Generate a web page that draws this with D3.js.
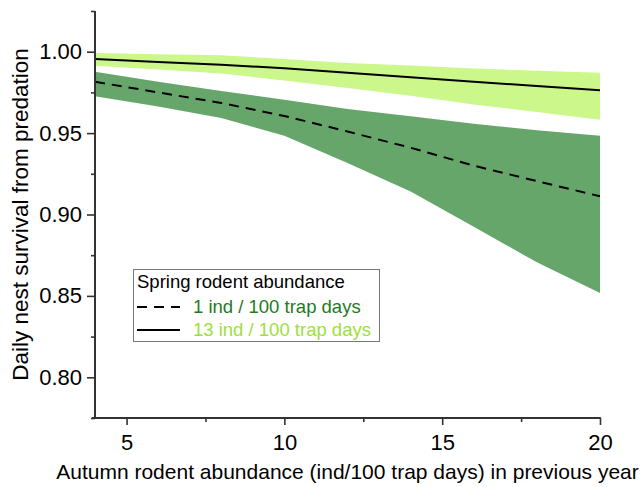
<!DOCTYPE html>
<html>
<head>
<meta charset="utf-8">
<script src="https://cdn.jsdelivr.net/npm/d3@7"></script>
<style>
  body { margin: 0; background: #fff; }
  svg { font-family: "Liberation Sans", Arial, sans-serif; }
  .axis path { display: none; }
  .axis line { stroke: #333; stroke-width: 1.6; }
  .axis text { fill: #000; font-size: 22px; }
</style>
</head>
<body>
<div id="chart"></div>
<script>
// autumn rodent abundance (x)
const autumn = [4, 6, 8, 10, 12, 14, 16, 18, 20];

// spring rodent abundance 1 ind / 100 trap days
const lowMean  = [0.9815, 0.9750, 0.9685, 0.9605, 0.9510, 0.9410, 0.9300, 0.9205, 0.9112];
const lowUpper = [0.9877, 0.9815, 0.9758, 0.9705, 0.9648, 0.9603, 0.9557, 0.9517, 0.9484];
const lowLower = [0.9726, 0.9664, 0.9593, 0.9484, 0.9316, 0.9142, 0.8925, 0.8706, 0.8518];

// spring rodent abundance 13 ind / 100 trap days
const highMean  = [0.9955, 0.9937, 0.9920, 0.9898, 0.9871, 0.9843, 0.9815, 0.9790, 0.9763];
const highUpper = [0.9992, 0.9985, 0.9978, 0.9955, 0.9931, 0.9915, 0.9897, 0.9883, 0.9871];
const highLower = [0.9914, 0.9890, 0.9866, 0.9823, 0.9777, 0.9730, 0.9675, 0.9630, 0.9582];

const xTicks = [5, 10, 15, 20];
const xMinor = [7.5, 12.5, 17.5];
const yTicks = [0.80, 0.85, 0.90, 0.95, 1.00];
const yMinor = [0.775, 0.825, 0.875, 0.925, 0.975, 1.025];

const legendTitle = "Spring rodent abundance";
const legendLabels = ["1 ind / 100 trap days", "13 ind / 100 trap days"];

const W = 643, H = 487;
const margin = {top: 11, right: 43, bottom: 69, left: 95};
const width = W - margin.left - margin.right;
const height = H - margin.top - margin.bottom;

const svg = d3.select("#chart").append("svg")
  .attr("width", W)
  .attr("height", H);
const chart = svg.append("g")
  .attr("transform", `translate(${margin.left},${margin.top})`);

const x = d3.scaleLinear().domain([4, 20]).range([0, width]);
const y = d3.scaleLinear().domain([0.775, 1.025]).range([height, 0]);

// build rows
const low = autumn.map((a, i) => ({a, m: lowMean[i], lo: lowLower[i], hi: lowUpper[i]}));
const high = autumn.map((a, i) => ({a, m: highMean[i], lo: highLower[i], hi: highUpper[i]}));

const band = d3.area().x(d => x(d.a)).y0(d => y(d.lo)).y1(d => y(d.hi));
const line = d3.line().x(d => x(d.a)).y(d => y(d.m));

chart.append("path").datum(high).attr("d", band).attr("fill", "#ccf78a");
chart.append("path").datum(low).attr("d", band).attr("fill", "#67a66b");

chart.append("path").datum(high).attr("d", line)
  .attr("fill", "none").attr("stroke", "#000").attr("stroke-width", 2);
chart.append("path").datum(low).attr("d", line)
  .attr("fill", "none").attr("stroke", "#000").attr("stroke-width", 2)
  .attr("stroke-dasharray", "10,7");

// axes
chart.append("g").attr("class", "axis")
  .attr("transform", `translate(0,${height})`)
  .call(d3.axisBottom(x).tickValues(xTicks).tickSize(7).tickPadding(9).tickFormat(d3.format("d")));
chart.append("g").attr("class", "axis")
  .attr("transform", `translate(0,${height})`)
  .call(d3.axisBottom(x).tickValues(xMinor).tickSize(4).tickFormat(""));
chart.append("g").attr("class", "axis")
  .call(d3.axisLeft(y).tickValues(yTicks).tickSize(8).tickPadding(5).tickFormat(d3.format(".2f")));
chart.append("g").attr("class", "axis")
  .call(d3.axisLeft(y).tickValues(yMinor).tickSize(4).tickFormat(""));

// axis lines
chart.append("line")
  .attr("x1", -3).attr("x2", width + 0.8)
  .attr("y1", height).attr("y2", height)
  .attr("stroke", "#333").attr("stroke-width", 2);
chart.append("line")
  .attr("x1", 0).attr("x2", 0)
  .attr("y1", 0).attr("y2", height)
  .attr("stroke", "#333").attr("stroke-width", 2);

// axis titles
svg.append("text")
  .attr("x", margin.left + width / 2)
  .attr("y", 479)
  .attr("text-anchor", "middle")
  .attr("font-size", 21)
  .text("Autumn rodent abundance (ind/100 trap days) in previous year");
svg.append("text")
  .attr("transform", `translate(28,${margin.top + y(0.9)}) rotate(-90)`)
  .attr("text-anchor", "middle")
  .attr("font-size", 22.5)
  .text("Daily nest survival from predation");

// legend
const legend = svg.append("g").attr("transform", "translate(133,269)");
legend.append("rect")
  .attr("x", 0.5).attr("y", 0.5)
  .attr("width", 246).attr("height", 72)
  .attr("fill", "#fff").attr("stroke", "#777").attr("stroke-width", 1);
legend.append("text")
  .attr("x", 4).attr("y", 19)
  .attr("font-size", 18.5)
  .text(legendTitle);
const legendColors = ["#1e7b1e", "#9de03c"];
legendLabels.forEach((lab, i) => {
  const yy = 38 + i * 23;
  legend.append("line")
    .attr("x1", 4).attr("x2", 47)
    .attr("y1", yy).attr("y2", yy)
    .attr("stroke", "#000").attr("stroke-width", 2)
    .attr("stroke-dasharray", i === 0 ? "10,7" : null);
  legend.append("text")
    .attr("x", 60).attr("y", yy + 6)
    .attr("font-size", 18.5)
    .attr("fill", legendColors[i])
    .text(lab);
});
</script>
</body>
</html>
